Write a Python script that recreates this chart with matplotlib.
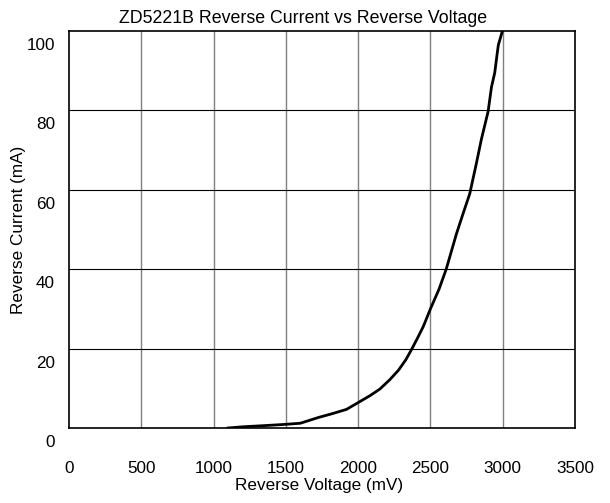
import matplotlib
matplotlib.use("Agg")
import matplotlib.pyplot as plt
from matplotlib.transforms import ScaledTranslation

plt.rcParams['font.family'] = ['Liberation Sans', 'DejaVu Sans']
plt.rcParams['font.size'] = 12.3

# data
voltage_mv = [1100, 1200, 1350, 1490, 1600, 1730, 1820, 1920, 2000, 2080, 2150,
              2220, 2280, 2330, 2370, 2410, 2450, 2500, 2560, 2610, 2680, 2725,
              2772, 2817, 2853, 2899, 2922, 2945, 2961, 2970, 2998]
current_ma = [0.0, 0.3, 0.6, 0.9, 1.2, 2.7, 3.6, 4.7, 6.4, 8.1, 9.8,
              12.2, 14.6, 17.2, 19.8, 22.6, 25.5, 30.0, 35.0, 40.1, 48.9, 53.9,
              59.0, 66.5, 72.8, 79.7, 85.8, 89.5, 94.1, 96.5, 100.0]

x_ticks = [0, 500, 1000, 1500, 2000, 2500, 3000, 3500]
y_ticks = [0, 20, 40, 60, 80, 100]

fig = plt.figure(figsize=(6.1, 5.03), dpi=100)
ax = fig.add_axes([0.1131, 0.1491, 0.8295, 0.7893])

ax.plot(voltage_mv, current_ma, color='black', lw=2, zorder=3)

ax.set_xlim(0, 3500)
ax.set_ylim(0, 100)
ax.set_xticks(x_ticks)
ax.set_yticks(y_ticks)

# grid: vertical gray, horizontal black
for v in x_ticks[1:-1]:
    ax.axvline(v, color='#808080', lw=1, zorder=1)
for c in y_ticks[1:-1]:
    ax.axhline(c, color='black', lw=0.8, zorder=1)

for s in ax.spines.values():
    s.set_color('black')
    s.set_linewidth(1.2)

ax.tick_params(axis='x', length=0, pad=24)
ax.tick_params(axis='y', length=0, pad=10)

# the y labels sit a bit below their gridlines in the original
offset = ScaledTranslation(0, -0.13, fig.dpi_scale_trans)
for lab in ax.get_yticklabels():
    lab.set_transform(lab.get_transform() + offset)

# title is a little left of the plot centre in the original
ax.set_title('ZD5221B Reverse Current vs Reverse Voltage', fontsize=12.8,
             x=0.463, pad=6)
ax.set_xlabel('Reverse Voltage (mV)')
ax.xaxis.set_label_coords(0.495, -0.126)
ax.set_ylabel('Reverse Current (mA)', va='center')
ax.yaxis.set_label_coords(-0.1, 0.5)

fig.savefig('out.png', dpi=100)
